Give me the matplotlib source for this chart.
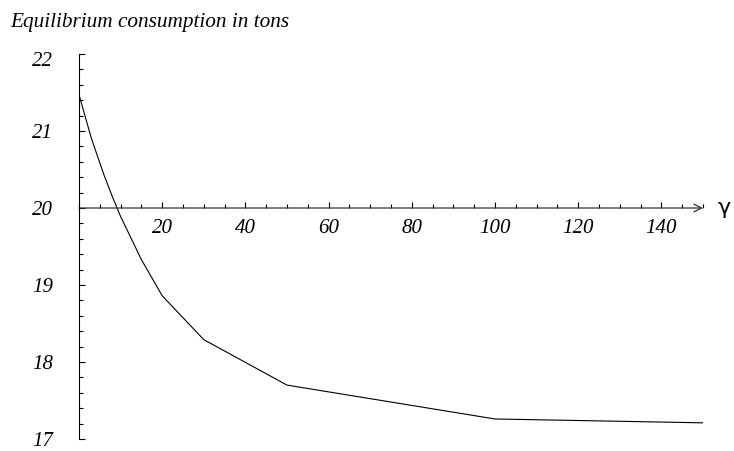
import matplotlib.pyplot as plt
import matplotlib.transforms as mtransforms
from matplotlib.ticker import MultipleLocator, FixedLocator

# equilibrium consumption vs gamma
gamma = [0, 3, 6, 8, 10, 15, 20, 30, 50, 100, 150]
consumption = [21.47, 20.90, 20.43, 20.15, 19.89, 19.33, 18.86, 18.29, 17.70, 17.26, 17.21]

x_labels = [20, 40, 60, 80, 100, 120, 140]
y_labels = [17, 18, 19, 20, 21, 22]

plt.rcParams['font.family'] = ['Liberation Serif', 'DejaVu Serif']

fig = plt.figure(figsize=(7.34, 4.51), dpi=100)
W, H = 734, 451
ax = fig.add_axes([79 / W, (H - 439) / H, (703 - 79) / W, (439 - 54) / H])

ax.plot(gamma, consumption, color='black', lw=0.8)

ax.set_xlim(0, 150)
ax.set_ylim(17, 22)

for s in ['top', 'right']:
    ax.spines[s].set_visible(False)
ax.spines['left'].set_position(('data', 0))
ax.spines['bottom'].set_position(('data', 20))
ax.spines['bottom'].set_visible(False)
ax.spines['left'].set_linewidth(0.8)

# x axis with arrow
ax.annotate('', xy=(150, 20), xytext=(0, 20), xycoords='data',
            arrowprops=dict(arrowstyle='->', color='#333333', lw=0.9,
                            shrinkA=0, shrinkB=0, mutation_scale=14))
ax.text(153.5, 20, 'γ', fontsize=16, family='DejaVu Sans', va='center', ha='left')

ax.xaxis.set_major_locator(FixedLocator(x_labels))
ax.xaxis.set_minor_locator(MultipleLocator(5))
ax.yaxis.set_major_locator(FixedLocator(y_labels))
ax.yaxis.set_minor_locator(MultipleLocator(0.2))

ax.tick_params(axis='x', which='both', direction='in', width=0.8, pad=8,
               labelsize=15)
ax.tick_params(axis='x', which='major', length=4)
ax.tick_params(axis='x', which='minor', length=3)
ax.tick_params(axis='y', which='both', direction='in', width=0.8, pad=18.5,
               labelsize=15)
ax.tick_params(axis='y', which='major', length=4)
ax.tick_params(axis='y', which='minor', length=3)

for lab in ax.get_xticklabels() + ax.get_yticklabels():
    lab.set_fontstyle('italic')
# top label sits a little below its tick in the original
top = ax.get_yticklabels()[-1]
top.set_transform(top.get_transform() +
                  mtransforms.ScaledTranslation(0, -5 / 100, fig.dpi_scale_trans))

fig.text(10 / W, 1 - 22 / H, 'Equilibrium consumption in tons', fontsize=15.3,
         style='italic', va='center', ha='left')

fig.savefig('out.png', dpi=100)
